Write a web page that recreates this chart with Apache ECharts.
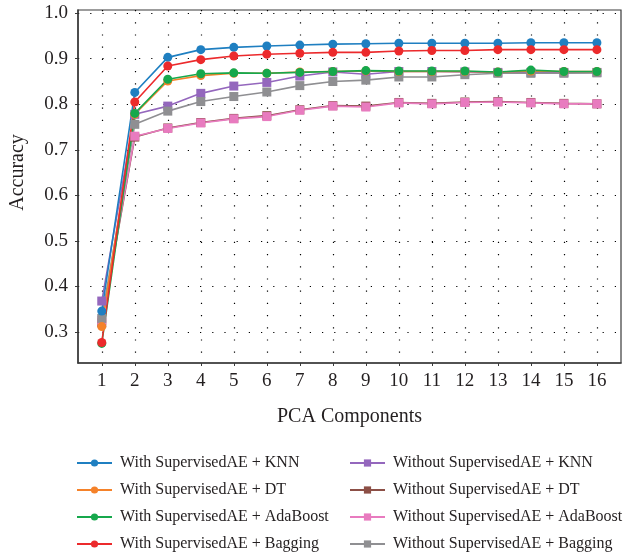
<!DOCTYPE html>
<html><head><meta charset="utf-8">
<script src="https://cdn.jsdelivr.net/npm/echarts@6/dist/echarts.min.js"></script>
<style>html,body{margin:0;padding:0;background:#fff}#c{width:623px;height:557px}</style>
</head><body><div id="c"></div>
<script>
var components = [1,2,3,4,5,6,7,8,9,10,11,12,13,14,15,16];
var yTicks = [0.3,0.4,0.5,0.6,0.7,0.8,0.9,1.0];
var seriesNames = [
  'With SupervisedAE + KNN','With SupervisedAE + DT','With SupervisedAE + AdaBoost','With SupervisedAE + Bagging',
  'Without SupervisedAE + KNN','Without SupervisedAE + DT','Without SupervisedAE + AdaBoost','Without SupervisedAE + Bagging'
];
var withKNN      = [0.346,0.826,0.903,0.920,0.925,0.928,0.930,0.932,0.933,0.934,0.934,0.934,0.934,0.935,0.935,0.935];
var withDT       = [0.312,0.778,0.851,0.863,0.868,0.868,0.871,0.872,0.873,0.872,0.872,0.872,0.871,0.873,0.872,0.872];
var withAda      = [0.275,0.780,0.855,0.867,0.869,0.868,0.870,0.872,0.874,0.873,0.873,0.873,0.871,0.875,0.872,0.872];
var withBagging  = [0.277,0.805,0.884,0.898,0.906,0.910,0.912,0.914,0.914,0.917,0.918,0.918,0.920,0.920,0.920,0.920];
var woKNN        = [0.368,0.778,0.796,0.824,0.840,0.848,0.862,0.871,0.866,0.872,0.872,0.871,0.870,0.870,0.870,0.870];
var woDT         = [0.320,0.728,0.748,0.760,0.769,0.775,0.788,0.797,0.796,0.804,0.802,0.805,0.806,0.804,0.802,0.801];
var woAda        = [0.326,0.730,0.747,0.759,0.768,0.773,0.787,0.796,0.794,0.803,0.801,0.804,0.805,0.803,0.801,0.801];
var woBagging    = [0.330,0.756,0.785,0.806,0.817,0.827,0.841,0.850,0.853,0.860,0.860,0.865,0.868,0.868,0.868,0.869];
var seriesValues = [withKNN, withDT, withAda, withBagging, woKNN, woDT, woAda, woBagging];
var colors = ['#1f7fc1','#f5822a','#16a84c','#ec2a2c','#9467bd','#8c4f46','#e87bbf','#8f8f92'];
var drawOrder = [5,6,4,7,1,2,0,3];

var chart = echarts.init(document.getElementById('c'));
var FONT = '"Liberation Serif","DejaVu Serif",serif';
var series = drawOrder.map(function(i){
  return {
    name: seriesNames[i], type: 'line',
    data: components.map(function(x,k){ return [x, seriesValues[i][k]]; }),
    symbol: i < 4 ? 'circle' : 'rect',
    symbolSize: i < 4 ? 9 : 9,
    lineStyle: {width: 1.6, color: colors[i]},
    itemStyle: {color: colors[i]},
    emphasis: {disabled: true},
    animation: false
  };
});
var legendCommon = {
  orient: 'vertical', itemWidth: 35, itemHeight: 9, itemGap: 11,
  textStyle: {fontFamily: FONT, fontSize: 16, color: '#231f20', lineHeight: 16, padding:[0,0,0,3]},
  padding: 0
};
chart.setOption({
  backgroundColor: '#fff',
  color: colors,
  grid: {left: 76, right: 2, top: 10, bottom: 194, show: true, borderColor: '#3a3a3a', borderWidth: 1.2, backgroundColor: 'transparent'},
  legend: [
    Object.assign({left: 76, top: 455, data: seriesNames.slice(0,4)}, legendCommon),
    Object.assign({left: 349, top: 455, data: seriesNames.slice(4)}, legendCommon)
  ],
  xAxis: {
    type: 'value', min: 0.28, max: 16.73,
    name: 'PCA Components', nameLocation: 'middle', nameGap: 44,
    nameTextStyle: {fontFamily: FONT, fontSize: 20, color: '#231f20'},
    axisLine: {show: true, lineStyle: {color: '#3a3a3a', width: 1.5}},
    axisTick: {show: true, length: 3, customValues: components, lineStyle: {color: '#3a3a3a'}},
    axisLabel: {customValues: components, fontFamily: FONT, fontSize: 19, color: '#231f20', margin: 9},
    splitLine: {show: true, lineStyle: {type: [1.2, 11], color: '#000', width: 1.2}}
  },
  yAxis: {
    type: 'value', min: 0.232, max: 1.007,
    name: 'Accuracy', nameLocation: 'middle', nameGap: 50,
    nameTextStyle: {fontFamily: FONT, fontSize: 20, color: '#231f20', padding: [0,0,0,28]},
    axisLine: {show: true, lineStyle: {color: '#3a3a3a', width: 1.5}},
    axisTick: {show: true, length: 3, customValues: yTicks, lineStyle: {color: '#3a3a3a'}},
    axisLabel: {customValues: yTicks, fontFamily: FONT, fontSize: 19, color: '#231f20', margin: 10,
      formatter: function(v){ return v.toFixed(1); }},
    splitLine: {show: true, lineStyle: {type: [1.2, 11], color: '#000', width: 1.2}}
  },
  series: series
});
</script></body></html>
